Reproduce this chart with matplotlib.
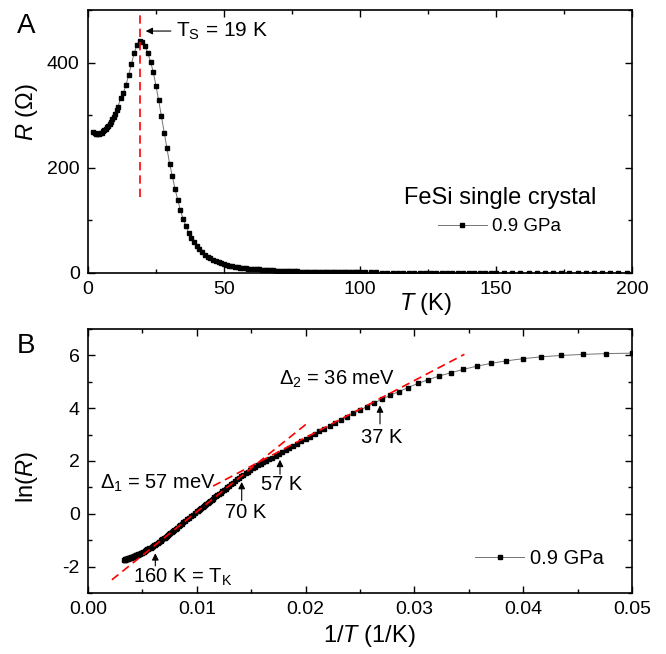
import matplotlib
matplotlib.use('Agg')
import matplotlib.pyplot as plt
from matplotlib.ticker import MultipleLocator, FormatStrFormatter
import numpy as np

plt.rcParams['font.family'] = ['Liberation Sans', 'DejaVu Sans']
plt.rcParams['mathtext.fontset'] = 'custom'
plt.rcParams['mathtext.rm'] = 'Liberation Sans'
plt.rcParams['mathtext.it'] = 'Liberation Sans:italic'
plt.rcParams['axes.unicode_minus'] = False

# low temperature part, R in Ohm
T_low = [2, 2.5, 3, 3.5, 4, 4.5, 5, 5.5, 6, 6.5, 7, 7.5, 8, 8.5, 9, 9.5, 10, 10.5, 11,
         12, 13, 14, 15, 16, 17, 18, 19, 20, 21, 22, 23, 24, 25, 26, 27, 28, 29, 30,
         31, 32, 33, 34, 35]
R_low = [268, 266, 265, 265, 265, 266, 267, 269, 271, 274, 277, 280, 284, 288, 292, 297, 303, 309, 316,
         332, 342, 358, 377, 398, 418, 434, 441, 439, 431, 418, 402, 382, 356, 328, 298, 267, 237, 208,
         184, 160, 139, 119, 102]

# high temperature part, ln(R)
T_high = [36, 37, 38, 39, 40, 41, 42, 43, 44, 45, 46, 47, 48, 49, 50,
          51, 52, 53, 54, 55, 56, 57, 58, 59, 60, 61, 62, 63, 64, 65,
          66, 67, 68, 69, 70, 71, 72, 73, 74, 75, 76, 77, 78, 79, 80,
          81, 82, 83, 84, 85, 86, 87, 88, 89, 90, 91, 92, 93, 94, 95,
          96, 97, 98, 99, 100,
          102, 104, 106, 108, 110, 112, 114, 116, 118, 120, 122, 124, 126, 128, 130,
          132, 134, 136, 138, 140, 142, 144, 146, 148, 150,
          153, 156, 159, 162, 165, 168, 171, 174, 177, 180, 183, 186, 189, 192, 195,
          198, 201, 204, 207, 210, 213, 216, 219, 222, 225, 228, 231, 234, 237, 240,
          243, 246, 249, 252, 255, 258, 261, 264, 267, 270, 273, 276, 279, 282, 285,
          288, 291, 294, 297, 300]
lnR_high = [4.49, 4.34, 4.20, 4.06, 3.93, 3.80, 3.67, 3.55, 3.44, 3.33, 3.22, 3.12, 3.02, 2.92, 2.83,
            2.74, 2.65, 2.57, 2.48, 2.40, 2.33, 2.26, 2.19, 2.13, 2.07, 2.01, 1.95, 1.89, 1.84, 1.78,
            1.72, 1.66, 1.60, 1.54, 1.48, 1.42, 1.36, 1.30, 1.24, 1.18, 1.12, 1.06, 1.01, 0.95, 0.90,
            0.85, 0.80, 0.75, 0.71, 0.66, 0.62, 0.57, 0.53, 0.49, 0.45, 0.41, 0.37, 0.33, 0.29, 0.26,
            0.22, 0.19, 0.15, 0.12, 0.09,
            0.03, -0.03, -0.09, -0.15, -0.21, -0.26, -0.32, -0.37, -0.42, -0.47, -0.52, -0.56, -0.61, -0.65, -0.69,
            -0.73, -0.76, -0.80, -0.84, -0.87, -0.90, -0.93, -0.96, -0.99, -1.02,
            -1.06, -1.10, -1.14, -1.17, -1.20, -1.23, -1.26, -1.28, -1.31, -1.33, -1.35, -1.37, -1.39, -1.41, -1.43,
            -1.45, -1.47, -1.48, -1.50, -1.51, -1.52, -1.53, -1.55, -1.56, -1.57, -1.58, -1.59, -1.60, -1.61, -1.62,
            -1.63, -1.64, -1.64, -1.65, -1.66, -1.67, -1.67, -1.68, -1.69, -1.69, -1.70, -1.71, -1.71, -1.72, -1.72,
            -1.73, -1.73, -1.74, -1.74, -1.75]

T = np.array(T_low + T_high, dtype=float)
R = np.concatenate([np.array(R_low, dtype=float), np.exp(lnR_high)])
lnR = np.log(R)
invT = 1.0 / T

# structural transition marker (panel A)
Ts = 19
ts_line_R = [145, 495]

# activation fits (panel B)
fit1_x = [0.0022, 0.0201]
fit1_y = [-2.50, 3.41]
fit2_x = [0.0115, 0.0346]
fit2_y = [1.05, 6.04]

# arrows in panel B: (x, y_tail, y_head)
arrows_B = [(0.00619, -2.08, -1.39), (0.01413, 0.40, 1.31),
            (0.01765, 1.39, 2.15), (0.02684, 3.30, 4.21)]

fig = plt.figure(figsize=(6.66, 6.54), dpi=100)
axA = fig.add_axes([0.1321, 0.5826, 0.8168, 0.4021])
axB = fig.add_axes([0.1321, 0.0933, 0.8168, 0.4037])

for ax in (axA, axB):
    ax.tick_params(which='both', direction='in', top=True, right=True, labelsize=14, pad=6)
    ax.tick_params(which='major', length=5, width=1)
    ax.tick_params(which='minor', length=3, width=1)
    for s in ax.spines.values():
        s.set_linewidth(1.2)

# Panel A
axA.plot(T, R, color='0.45', lw=0.7, marker='s', ms=3, mfc='k', mec='k', label='0.9 GPa')
axA.plot([Ts, Ts], ts_line_R, color='red', ls=(0, (5, 3)), lw=1.2)
axA.annotate('', xy=(20.2, 460), xytext=(31.5, 460),
             arrowprops=dict(arrowstyle='-|>', color='black', lw=0.8, mutation_scale=10))
axA.text(32.5, 460, r'$\mathregular{T_S}$ = 19 K', fontsize=15, va='center')
axA.set_xlim(0, 200)
axA.set_ylim(0, 500)
axA.xaxis.set_major_locator(MultipleLocator(50))
axA.xaxis.set_minor_locator(MultipleLocator(25))
axA.yaxis.set_major_locator(MultipleLocator(200))
axA.yaxis.set_minor_locator(MultipleLocator(100))
axA.set_xlabel(r'$\mathit{T}$ (K)', fontsize=17)
axA.xaxis.set_label_coords(0.62, -0.068)
axA.set_ylabel(r'$\mathit{R}$ (Ω)', fontsize=17)
axA.yaxis.set_label_coords(-0.088, 0.612)
axA.legend(loc='center', bbox_to_anchor=(0.757, 0.236), frameon=False,
           title='FeSi single crystal', title_fontsize=17, fontsize=13.5,
           handlelength=2.6, handletextpad=0.3, borderpad=0.2)

# Panel B
axB.plot(invT, lnR, color='0.45', lw=0.7, marker='s', ms=3, mfc='k', mec='k', label='0.9 GPa')
axB.plot(fit1_x, fit1_y, color='red', ls=(0, (5, 3)), lw=1.2)
axB.plot(fit2_x, fit2_y, color='red', ls=(0, (5, 3)), lw=1.2)
for x, y0, y1 in arrows_B:
    axB.annotate('', xy=(x, y1), xytext=(x, y0),
                 arrowprops=dict(arrowstyle='-|>', color='black', lw=0.8, mutation_scale=10))
axB.text(0.00414, -2.42, r'160 K = $\mathregular{T_K}$', fontsize=14.5, va='center')
axB.text(0.01452, 0.04, '70 K', fontsize=14.5, va='center', ha='center')
axB.text(0.01783, 1.09, '57 K', fontsize=14.5, va='center', ha='center')
axB.text(0.02702, 2.88, '37 K', fontsize=14.5, va='center', ha='center')
axB.text(0.0011, 1.16, r'$\mathregular{\Delta_1}$ = 57 meV', fontsize=14.5, va='center')
axB.text(0.01755, 5.09, r'$\mathregular{\Delta_2}$ = 36 meV', fontsize=14.5, va='center')
axB.set_xlim(0, 0.05)
axB.set_ylim(-3, 7)
axB.xaxis.set_major_locator(MultipleLocator(0.01))
axB.xaxis.set_minor_locator(MultipleLocator(0.005))
axB.xaxis.set_major_formatter(FormatStrFormatter('%.2f'))
axB.yaxis.set_major_locator(MultipleLocator(2))
axB.yaxis.set_minor_locator(MultipleLocator(1))
axB.set_xlabel(r'1/$\mathit{T}$ (1/K)', fontsize=17)
axB.xaxis.set_label_coords(0.517, -0.114)
axB.set_ylabel(r'ln($\mathit{R}$)', fontsize=17)
axB.yaxis.set_label_coords(-0.088, 0.439)
axB.legend(loc='center', bbox_to_anchor=(0.83, 0.129), frameon=False, fontsize=14.5,
           handlelength=2.4, handletextpad=0.3)

fig.text(17 / 666, 1 - 33 / 654, 'A', fontsize=20, va='baseline')
fig.text(17 / 666, 1 - 353 / 654, 'B', fontsize=20, va='baseline')

fig.savefig('out.png', dpi=100)
